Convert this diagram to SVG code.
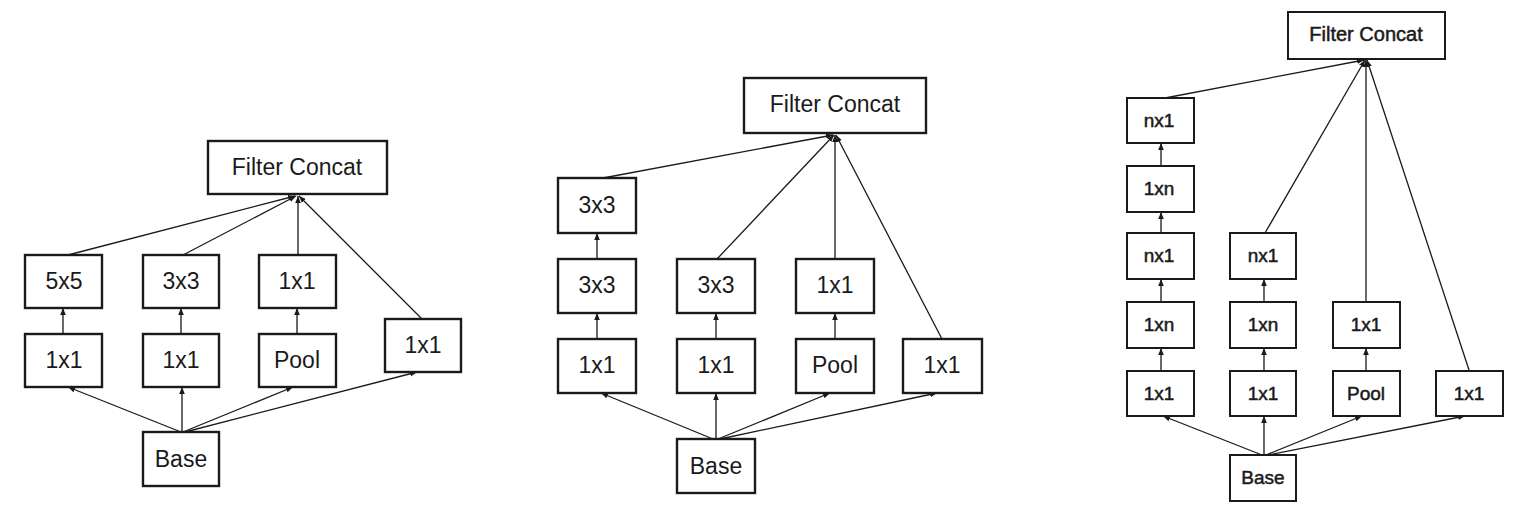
<svg xmlns="http://www.w3.org/2000/svg" width="1531" height="509" viewBox="0 0 1531 509">
<style>
.box{fill:#fff;stroke:#1a1a1a;stroke-width:2.4}
.boxr{fill:#fff;stroke:#1a1a1a;stroke-width:2}
.t{font-family:"Liberation Sans",Arial,sans-serif;fill:#1a1a1a;text-anchor:middle;dominant-baseline:central}
.l{font-size:23px}
.r{font-size:19px;stroke:#1a1a1a;stroke-width:0.5}
.c line{stroke:#1a1a1a;stroke-width:1.3;marker-end:url(#ah)}
</style>
<defs>
<marker id="ah" markerUnits="userSpaceOnUse" markerWidth="7" markerHeight="7" viewBox="0 0 10 10" refX="10" refY="5" orient="auto">
<path d="M0,1 L10,5 L0,9 z" fill="#1a1a1a"/>
</marker>
</defs>
<rect width="1531" height="509" fill="#fff"/>

<!-- Connectors -->
<g id="connectors" class="c">
<!-- left -->
<line x1="68" y1="255" x2="295" y2="196"/>
<line x1="183" y1="255" x2="296" y2="196"/>
<line x1="298" y1="255" x2="298" y2="196"/>
<line x1="422" y1="319" x2="299" y2="196"/>
<line x1="63" y1="334" x2="63" y2="308"/>
<line x1="181" y1="334" x2="181" y2="308"/>
<line x1="297" y1="334" x2="297" y2="308"/>
<line x1="181" y1="432" x2="68" y2="387"/>
<line x1="182" y1="432" x2="182" y2="387"/>
<line x1="183" y1="432" x2="293" y2="387"/>
<line x1="185" y1="432" x2="417" y2="372"/>
<!-- middle -->
<line x1="603" y1="178" x2="833" y2="135"/>
<line x1="717" y1="259" x2="834" y2="135"/>
<line x1="835" y1="259" x2="835" y2="135"/>
<line x1="942" y1="339" x2="836" y2="135"/>
<line x1="597" y1="259" x2="597" y2="233"/>
<line x1="597" y1="339" x2="597" y2="313"/>
<line x1="716" y1="339" x2="716" y2="313"/>
<line x1="835" y1="339" x2="835" y2="313"/>
<line x1="713" y1="439" x2="601" y2="393"/>
<line x1="716" y1="439" x2="716" y2="393"/>
<line x1="718" y1="439" x2="830" y2="393"/>
<line x1="720" y1="439" x2="937" y2="393"/>
<!-- right -->
<line x1="1165" y1="98" x2="1364" y2="60"/>
<line x1="1265" y1="233" x2="1365" y2="60"/>
<line x1="1366" y1="302" x2="1366" y2="60"/>
<line x1="1469" y1="370" x2="1367" y2="60"/>
<line x1="1161" y1="166" x2="1161" y2="143"/>
<line x1="1161" y1="233" x2="1161" y2="212"/>
<line x1="1161" y1="302" x2="1161" y2="279"/>
<line x1="1161" y1="371" x2="1161" y2="348"/>
<line x1="1264" y1="302" x2="1264" y2="279"/>
<line x1="1264" y1="371" x2="1264" y2="348"/>
<line x1="1366" y1="371" x2="1366" y2="348"/>
<line x1="1262" y1="455" x2="1163" y2="416"/>
<line x1="1264" y1="455" x2="1264" y2="416"/>
<line x1="1266" y1="455" x2="1362" y2="416"/>
<line x1="1268" y1="455" x2="1465" y2="416"/>
</g>

<!-- Left diagram -->
<g id="L-concat"><rect class="box" x="208" y="141" width="179" height="53"/><text class="t l" x="297" y="167">Filter Concat</text></g>
<g id="L-5x5"><rect class="box" x="25" y="255" width="77" height="53"/><text class="t l" x="64" y="281">5x5</text></g>
<g id="L-3x3"><rect class="box" x="143" y="255" width="76" height="53"/><text class="t l" x="181" y="281">3x3</text></g>
<g id="L-1x1a"><rect class="box" x="259" y="255" width="77" height="53"/><text class="t l" x="297" y="281">1x1</text></g>
<g id="L-1x1b"><rect class="box" x="25" y="334" width="77" height="53"/><text class="t l" x="64" y="360">1x1</text></g>
<g id="L-1x1c"><rect class="box" x="143" y="334" width="76" height="53"/><text class="t l" x="181" y="360">1x1</text></g>
<g id="L-pool"><rect class="box" x="259" y="334" width="77" height="53"/><text class="t l" x="297" y="360">Pool</text></g>
<g id="L-1x1d"><rect class="box" x="385" y="319" width="76" height="53"/><text class="t l" x="423" y="345">1x1</text></g>
<g id="L-base"><rect class="box" x="143" y="432" width="76" height="54"/><text class="t l" x="181" y="459">Base</text></g>

<!-- Middle diagram -->
<g id="M-concat"><rect class="box" x="744" y="78" width="182" height="55"/><text class="t l" x="835" y="104">Filter Concat</text></g>
<g id="M-3x3a"><rect class="box" x="558" y="178" width="78" height="55"/><text class="t l" x="597" y="205">3x3</text></g>
<g id="M-3x3b"><rect class="box" x="558" y="259" width="78" height="54"/><text class="t l" x="597" y="285">3x3</text></g>
<g id="M-3x3c"><rect class="box" x="677" y="259" width="78" height="54"/><text class="t l" x="716" y="285">3x3</text></g>
<g id="M-1x1a"><rect class="box" x="796" y="259" width="78" height="54"/><text class="t l" x="835" y="285">1x1</text></g>
<g id="M-1x1b"><rect class="box" x="558" y="339" width="78" height="54"/><text class="t l" x="597" y="365">1x1</text></g>
<g id="M-1x1c"><rect class="box" x="677" y="339" width="78" height="54"/><text class="t l" x="716" y="365">1x1</text></g>
<g id="M-pool"><rect class="box" x="796" y="339" width="78" height="54"/><text class="t l" x="835" y="365">Pool</text></g>
<g id="M-1x1d"><rect class="box" x="903" y="339" width="79" height="54"/><text class="t l" x="942" y="365">1x1</text></g>
<g id="M-base"><rect class="box" x="677" y="439" width="78" height="54"/><text class="t l" x="716" y="466">Base</text></g>

<!-- Right diagram -->
<g id="R-concat"><rect class="boxr" x="1288" y="12" width="157" height="47"/><text class="t r" x="1366" y="34" style="font-size:20px">Filter Concat</text></g>
<g id="R-nx1a"><rect class="boxr" x="1127" y="98" width="67" height="45"/><text class="t r" x="1159" y="120">nx1</text></g>
<g id="R-1xna"><rect class="boxr" x="1127" y="166" width="67" height="46"/><text class="t r" x="1159" y="188">1xn</text></g>
<g id="R-nx1b"><rect class="boxr" x="1127" y="233" width="67" height="46"/><text class="t r" x="1159" y="255">nx1</text></g>
<g id="R-nx1c"><rect class="boxr" x="1230" y="233" width="66" height="46"/><text class="t r" x="1263" y="255">nx1</text></g>
<g id="R-1xnb"><rect class="boxr" x="1127" y="302" width="67" height="46"/><text class="t r" x="1159" y="324">1xn</text></g>
<g id="R-1xnc"><rect class="boxr" x="1230" y="302" width="66" height="46"/><text class="t r" x="1263" y="324">1xn</text></g>
<g id="R-1x1a"><rect class="boxr" x="1333" y="302" width="67" height="46"/><text class="t r" x="1366" y="324">1x1</text></g>
<g id="R-1x1b"><rect class="boxr" x="1127" y="371" width="67" height="45"/><text class="t r" x="1159" y="393">1x1</text></g>
<g id="R-1x1c"><rect class="boxr" x="1230" y="371" width="66" height="45"/><text class="t r" x="1263" y="393">1x1</text></g>
<g id="R-pool"><rect class="boxr" x="1333" y="371" width="67" height="45"/><text class="t r" x="1366" y="393">Pool</text></g>
<g id="R-1x1d"><rect class="boxr" x="1436" y="371" width="67" height="45"/><text class="t r" x="1469" y="393">1x1</text></g>
<g id="R-base"><rect class="boxr" x="1230" y="455" width="66" height="46"/><text class="t r" x="1263" y="477">Base</text></g>
</svg>
